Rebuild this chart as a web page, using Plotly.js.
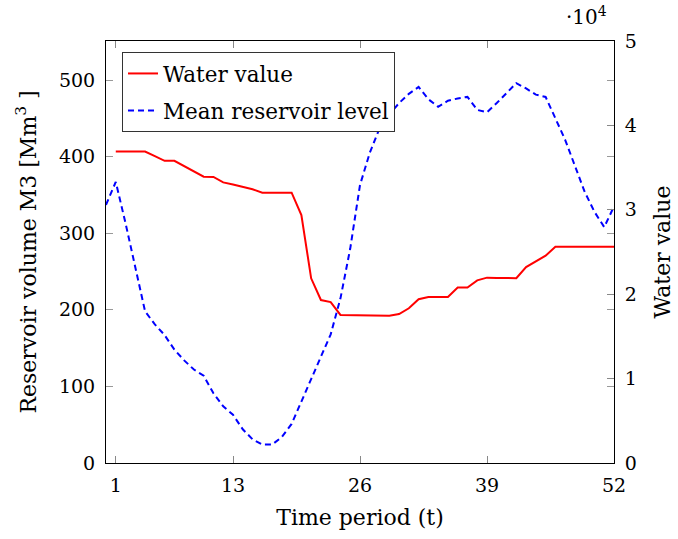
<!DOCTYPE html>
<html>
<head>
<meta charset="utf-8">
<script src="https://cdn.plot.ly/plotly-3.0.1.min.js"></script>
<style>html,body{margin:0;padding:0;background:#fff;}#chart{width:678px;height:539px;}</style>
</head>
<body>
<div id="chart"></div>
<script>
// Time periods
const periodsLevel = [0,1,2,3,4,5,6,7,8,9,10,11,12,13,14,15,16,17,18,19,20,21,22,23,24,25,26,27,28,29,30,31,32,33,34,35,36,37,38,39,40,41,42,43,44,45,46,47,48,49,50,51,52];
const periodsValue = [1,2,3,4,5,6,7,8,9,10,11,12,13,14,15,16,17,18,19,20,21,22,23,24,25,26,27,28,29,30,31,32,33,34,35,36,37,38,39,40,41,42,43,44,45,46,47,48,49,50,51,52];
// Mean reservoir level (Mm^3), left axis
const meanReservoirLevel = [337,367,313,254,198,181,167,148,134,122,114,91,74,63,44,31,24,24,34,51,80,109,138,168,215,280,363,405,437,455,470,482,491,475,465,473,476,478,461,458,470,483,496,489,481,478,450,422,388,354,328,308,335];
// Water value, right axis
const waterValue = [36900,36900,36900,36900,36350,35800,35800,35200,34550,33920,33900,33250,33000,32740,32430,32030,32030,32030,32030,29380,21880,19310,19070,17540,17520,17500,17470,17450,17440,17650,18330,19400,19670,19670,19670,20800,20800,21640,21960,21920,21900,21900,23220,23880,24560,25630,25630,25630,25630,25630,25630,25630];
const xTicks = [1,13,26,39,52];
const rightTickVals = [0,10000,20000,30000,40000,50000];
const rightTickText = ['0','1','2','3','4','5'];

const FONT = 'DejaVu Serif, serif';

const traces = [
  {x: periodsValue, y: waterValue, name: 'Water value', type: 'scatter', mode: 'lines',
   yaxis: 'y2', line: {color: '#ff0000', width: 2}, legendgroup: 'a'},
  {x: periodsLevel, y: meanReservoirLevel, name: 'Mean reservoir level', type: 'scatter', mode: 'lines',
   yaxis: 'y', line: {color: '#0000ff', width: 2, dash: '6px,4px'}, legendgroup: 'b'}
];

const layout = {
  width: 678, height: 539,
  margin: {l: 106, r: 64, t: 41, b: 76},
  paper_bgcolor: '#fff', plot_bgcolor: '#fff',
  font: {family: FONT, size: 19, color: '#000'},
  showlegend: true,
  legend: {x: 0.0315, y: 0.974, xanchor: 'left', yanchor: 'top',
           bgcolor: '#fff', bordercolor: '#333', borderwidth: 1,
           font: {family: FONT, size: 21.5}, tracegroupgap: 6},
  xaxis: {range: [0, 52], tickvals: xTicks, ticks: 'inside', ticklen: 7, tickcolor: '#888',
          showline: true, linecolor: '#000', linewidth: 1, mirror: 'ticks',
          showgrid: false, zeroline: false, ticklabelstandoff: 5,
          title: {text: 'Time period (t)', font: {family: FONT, size: 22}, standoff: 14}},
  yaxis: {range: [0, 551], dtick: 100, ticks: 'inside', ticklen: 7, tickcolor: '#999',
          showline: true, linecolor: '#000', linewidth: 1, mirror: 'ticks',
          showgrid: false, zeroline: false, ticklabelstandoff: 6,
          title: {text: 'Reservoir volume M3 [Mm<sup>3</sup> ]', font: {family: FONT, size: 22}, standoff: 16}},
  yaxis2: {overlaying: 'y', side: 'right', range: [0, 50000], tickvals: rightTickVals, ticktext: rightTickText,
           ticks: 'inside', ticklen: 7, tickcolor: '#888', showline: true, linecolor: '#000',
           showgrid: false, zeroline: false, ticklabelstandoff: 6,
           title: {text: 'Water value', font: {family: FONT, size: 22}, standoff: 18}},
  annotations: [{xref: 'paper', yref: 'paper', x: 0.945, y: 1.06, xanchor: 'center', yanchor: 'middle',
                 text: '·10<sup>4</sup>', showarrow: false, font: {family: FONT, size: 20}}]
};

Plotly.newPlot('chart', traces, layout, {displayModeBar: false, staticPlot: true});
</script>
</body>
</html>
